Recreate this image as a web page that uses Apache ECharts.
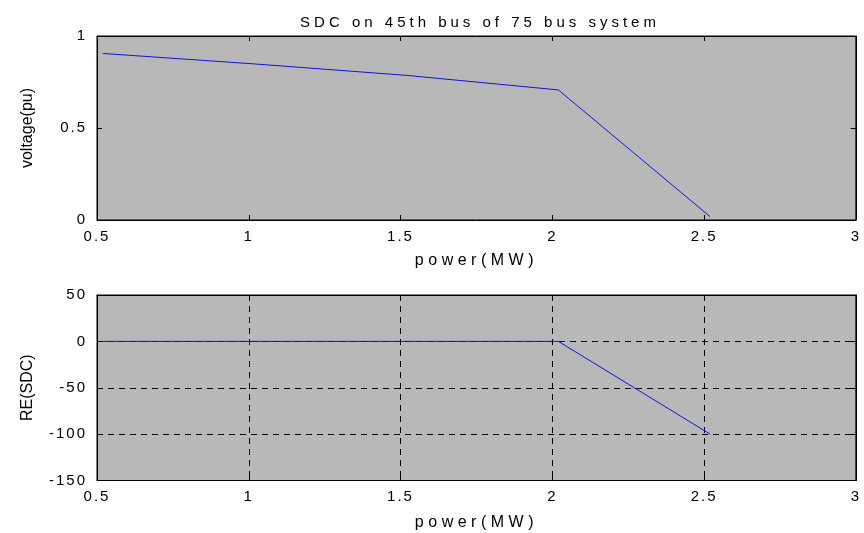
<!DOCTYPE html>
<html>
<head>
<meta charset="utf-8">
<style>html,body{margin:0;padding:0;background:#fff}#c{width:864px;height:533px}</style>
<script src="https://cdn.jsdelivr.net/npm/echarts@6/dist/echarts.min.js"></script>
</head>
<body>
<div id="c"></div>
<script>
const titleText = 'SDC on 45th bus of 75 bus system';
const power = [0.52, 1.02, 1.52, 2.02, 2.52];
const voltage = [0.905, 0.848, 0.786, 0.707, 0.018];
const reSdc = [0, 0, 0, 0, -100];
const xTicks = [0.5, 1, 1.5, 2, 2.5, 3];
const yTicksTop = [0, 0.5, 1];
const yTicksBottom = [-150, -100, -50, 0, 50];

// letter spacing support: a marker family "lsN" in the font string sets canvas letterSpacing to N px
(function () {
  const proto = CanvasRenderingContext2D.prototype;
  const d = Object.getOwnPropertyDescriptor(proto, 'font');
  if (!d || !('letterSpacing' in proto)) return;
  Object.defineProperty(proto, 'font', {
    configurable: true,
    get() { return d.get.call(this); },
    set(v) {
      d.set.call(this, v);
      const m = /ls(\d+(?:\.\d+)?)/.exec(String(v));
      this.letterSpacing = m ? m[1] + 'px' : '0px';
    }
  });
})();

const sp = (n) => "'Liberation Sans', ls" + n;
const lbl = {color: '#000', fontFamily: sp(2), fontSize: 15};
const xNameStyle = {color: '#000', fontFamily: sp(4.5), fontSize: 15};
const yNameStyle = {color: '#000', fontFamily: "'Liberation Sans'", fontSize: 16};
const LINE = '#1414dc';

function xAxisBase(gi, pos, showLabels, split) {
  return {
    type: 'value', gridIndex: gi, position: pos,
    min: xTicks[0], max: xTicks[xTicks.length - 1], interval: 0.5,
    axisLine: {show: true, onZero: false, lineStyle: {color: '#000', width: 1}},
    axisTick: {show: true, inside: true, length: 5, lineStyle: {color: '#000'}},
    axisLabel: {show: showLabels, ...lbl, margin: 8},
    splitLine: {show: split, lineStyle: {color: '#000', type: [6, 5], width: 1}}
  };
}
function yAxisBase(gi, pos, ticks, showLabels, split) {
  return {
    type: 'value', gridIndex: gi, position: pos,
    min: ticks[0], max: ticks[ticks.length - 1], interval: ticks[1] - ticks[0],
    axisLine: {show: true, onZero: false, lineStyle: {color: '#000', width: 1}},
    axisTick: {show: true, inside: true, length: 5, lineStyle: {color: '#000'}},
    axisLabel: {show: showLabels, ...lbl, margin: 10},
    splitLine: {show: split, lineStyle: {color: '#000', type: [6, 5], width: 1}}
  };
}

const chart = echarts.init(document.getElementById('c'), null, {renderer: 'canvas'});
chart.setOption({
  animation: false,
  backgroundColor: '#fff',
  title: {text: titleText, left: 475, top: 8, textAlign: 'center',
    textStyle: {color: '#000', fontFamily: sp(4), fontSize: 15, fontWeight: 'normal'}},
  grid: [
    {left: 97, top: 36, width: 760, height: 184, show: true, backgroundColor: '#b8b8b8', borderColor: '#000', borderWidth: 1},
    {left: 97, top: 295, width: 760, height: 186, show: true, backgroundColor: '#b8b8b8', borderColor: '#000', borderWidth: 1}
  ],
  xAxis: [
    Object.assign(xAxisBase(0, 'bottom', true, false), {name: 'power(MW)', nameLocation: 'middle', nameGap: 31, nameTextStyle: xNameStyle}),
    xAxisBase(0, 'top', false, false),
    Object.assign(xAxisBase(1, 'bottom', true, true), {name: 'power(MW)', nameLocation: 'middle', nameGap: 32, nameTextStyle: xNameStyle}),
    xAxisBase(1, 'top', false, false)
  ],
  yAxis: [
    Object.assign(yAxisBase(0, 'left', yTicksTop, true, false), {name: 'voltage(pu)', nameLocation: 'middle', nameGap: 61, nameTextStyle: yNameStyle}),
    yAxisBase(0, 'right', yTicksTop, false, false),
    Object.assign(yAxisBase(1, 'left', yTicksBottom, true, true), {name: 'RE(SDC)', nameLocation: 'middle', nameGap: 61, nameTextStyle: yNameStyle}),
    yAxisBase(1, 'right', yTicksBottom, false, false)
  ],
  series: [
    {type: 'line', xAxisIndex: 0, yAxisIndex: 0, data: power.map((p, i) => [p, voltage[i]]),
      showSymbol: false, z: 5, lineStyle: {color: LINE, width: 1}, itemStyle: {color: LINE}},
    {type: 'line', xAxisIndex: 2, yAxisIndex: 2, data: power.map((p, i) => [p, reSdc[i]]),
      showSymbol: false, z: 5, lineStyle: {color: LINE, width: 1}, itemStyle: {color: LINE}}
  ]
});
</script>
</body>
</html>
